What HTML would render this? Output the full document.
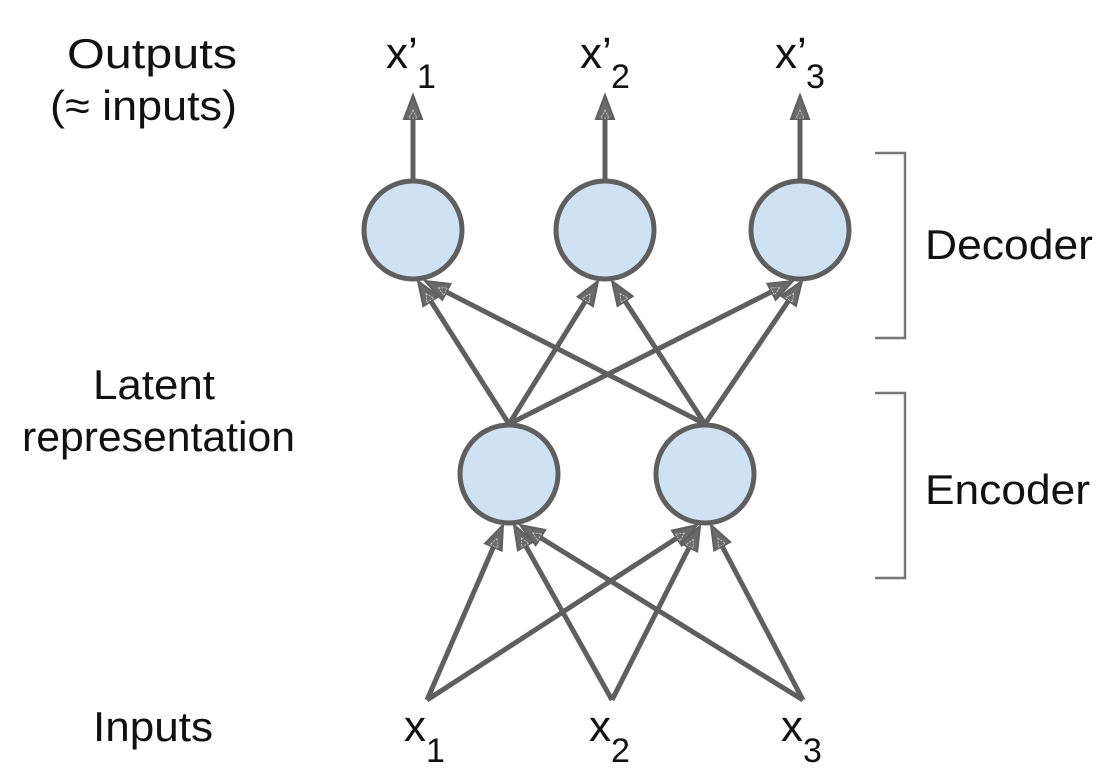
<!DOCTYPE html>
<html><head><meta charset="utf-8"><style>
html,body{margin:0;padding:0;background:#fff;}
svg{display:block;}
text{font-family:"Liberation Sans",sans-serif;fill:#111;}
</style></head><body>
<svg id="s" width="1112" height="780" viewBox="0 0 1112 780" xmlns="http://www.w3.org/2000/svg">
<g id="edges"></g>
<g fill="#cfe2f3" stroke="#5f5f5f" stroke-width="5">
<circle cx="413" cy="230" r="49"/>
<circle cx="605" cy="230" r="49"/>
<circle cx="800" cy="230" r="49"/>
<circle cx="509" cy="474" r="49"/>
<circle cx="705" cy="474" r="49"/>
</g>
<g stroke="#777" stroke-width="2.5" fill="none">
<polyline points="875,153 905,153 905,338 875,338"/>
<polyline points="875,393 905,393 905,578 875,578"/>
</g>
<g font-size="42">
<text x="67" y="68" textLength="170" lengthAdjust="spacingAndGlyphs">Outputs</text>
<text x="50" y="120" textLength="187" lengthAdjust="spacingAndGlyphs">(≈ inputs)</text>
<text x="93" y="399" textLength="122" lengthAdjust="spacingAndGlyphs">Latent</text>
<text x="22" y="451" textLength="273" lengthAdjust="spacingAndGlyphs">representation</text>
<text x="925" y="259" textLength="168" lengthAdjust="spacingAndGlyphs">Decoder</text>
<text x="925" y="504" textLength="165" lengthAdjust="spacingAndGlyphs">Encoder</text>
<text x="93" y="741" textLength="120" lengthAdjust="spacingAndGlyphs">Inputs</text>
</g>
<g font-size="44">
<text x="386" y="68">x’</text><text x="417" y="88" font-size="34">1</text>
<text x="580" y="68">x’</text><text x="611" y="88" font-size="34">2</text>
<text x="775" y="68">x’</text><text x="806" y="88" font-size="34">3</text>
<text x="404" y="741">x</text><text x="426" y="762" font-size="34">1</text>
<text x="589" y="741">x</text><text x="611" y="762" font-size="34">2</text>
<text x="781" y="741">x</text><text x="803" y="762" font-size="34">3</text>
</g>
</svg>
<script>
var E=[[413,180,413,95],[605,180,605,95],[800,180,800,95],
[509,424,418,281],[509,424,598,281],[509,424,793,281],
[705,424,425,281],[705,424,612,281],[705,424,802,281],
[427,700,503,525],[427,700,697,525],[612,700,514,525],
[612,700,700,526],[803,700,520,525],[803,700,711,525]];
var g=document.getElementById('edges'),ns='http://www.w3.org/2000/svg',h='';
E.forEach(function(e){var dx=e[2]-e[0],dy=e[3]-e[1],l=Math.hypot(dx,dy),ux=dx/l,uy=dy/l,L=24,W=9;
var bx=e[2]-L*ux,by=e[3]-L*uy,nx=-uy,ny=ux;
h+='<line x1="'+e[0]+'" y1="'+e[1]+'" x2="'+bx+'" y2="'+by+'" stroke="#5f5f5f" stroke-width="5"/>';
h+='<polygon points="'+e[2]+','+e[3]+' '+(bx+W*nx)+','+(by+W*ny)+' '+(bx-W*nx)+','+(by-W*ny)+'" fill="#6a6a6a" stroke="#5f5f5f" stroke-width="2" stroke-linejoin="miter"/>';
var cx=e[2]-15*ux,cy=e[3]-15*uy,ix=cx-8*ux,iy=cy-8*uy;
h+='<polygon points="'+cx+','+cy+' '+(ix+4*nx)+','+(iy+4*ny)+' '+(ix-4*nx)+','+(iy-4*ny)+'" fill="none" stroke="#ccc" stroke-width="0.8" stroke-dasharray="2,1"/>';
});
g.innerHTML=h;
</script>
</body></html>
